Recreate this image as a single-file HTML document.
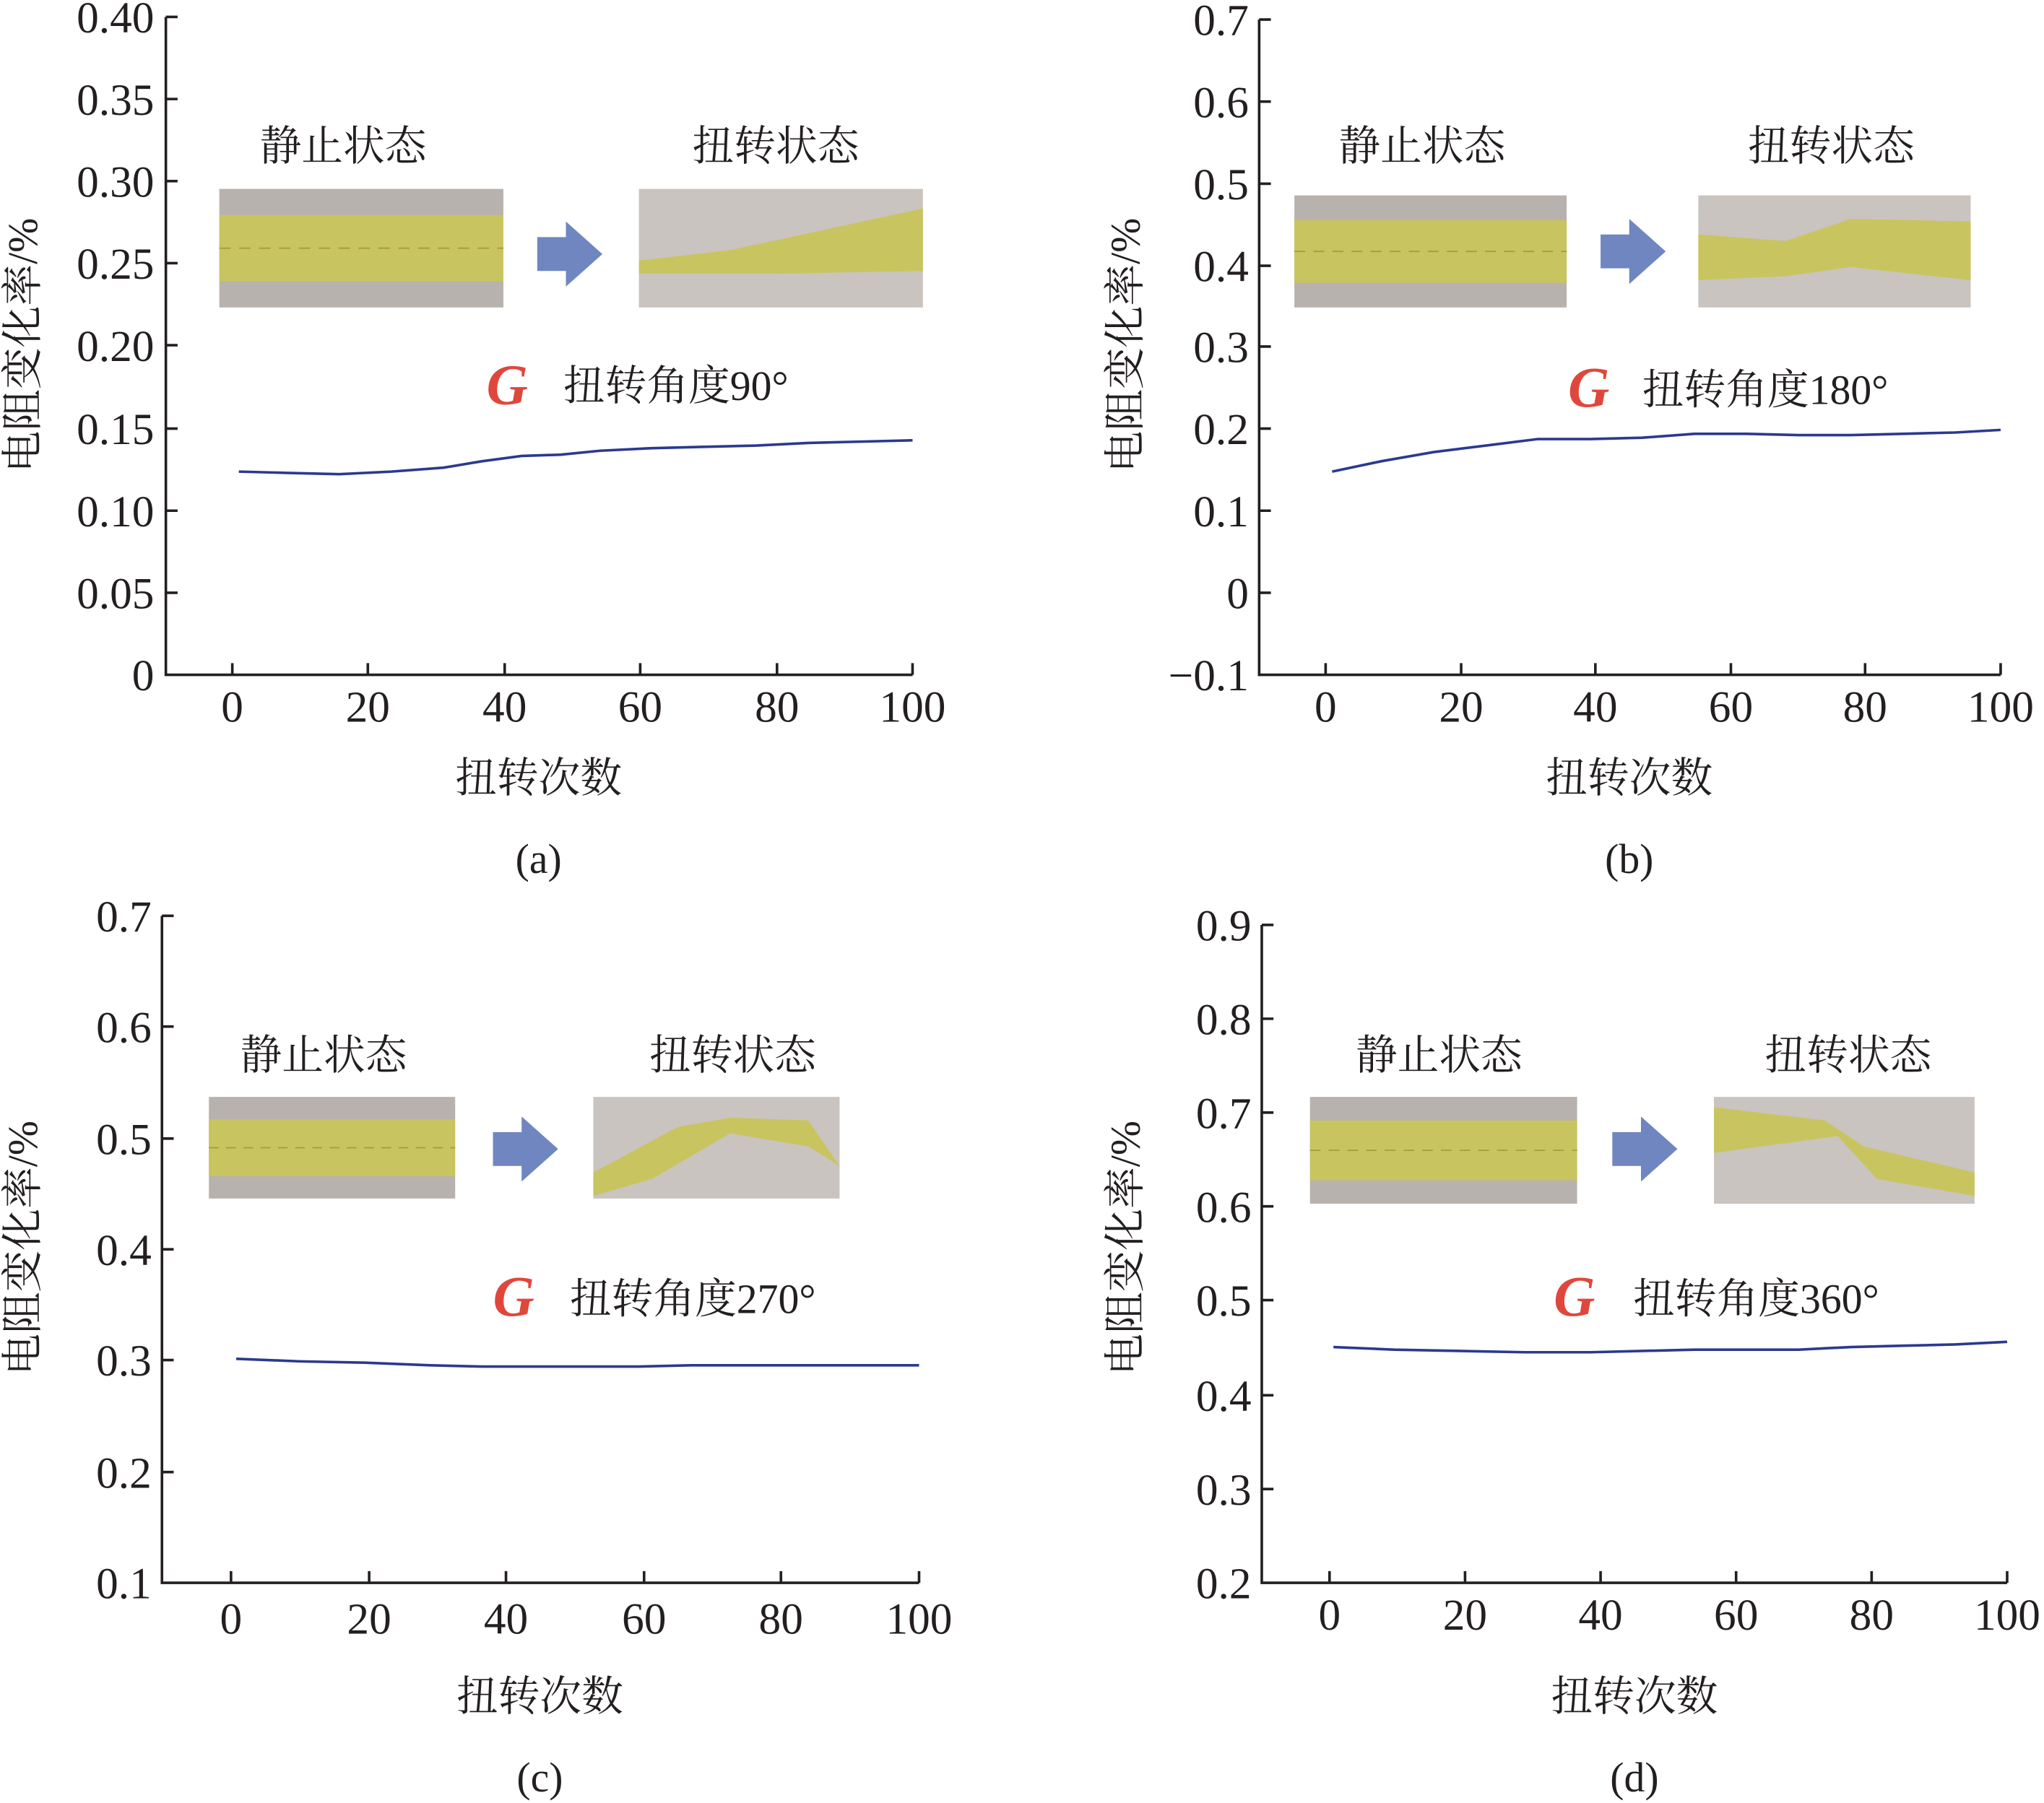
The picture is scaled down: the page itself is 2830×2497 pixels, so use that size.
<!DOCTYPE html>
<html><head><meta charset="utf-8"><style>
html,body{margin:0;padding:0;background:#fff}
svg{display:block}
text{font-family:"Liberation Serif","Noto Serif CJK SC",serif;fill:#231f20}
.t{font-size:34px;font-family:"Liberation Serif",serif}
.c{font-family:"Liberation Serif","Noto Serif CJK SC",serif;font-size:32px}
</style></head><body>
<svg width="2830" height="2497" viewBox="0 0 1568 1384" xmlns="http://www.w3.org/2000/svg">
<defs>
<g id="strip">
<rect x="0" y="0" width="100" height="100" fill="#b8b2ae"/>
<rect x="0" y="22" width="100" height="56" fill="#c8c560"/>
<line x1="0" y1="50" x2="100" y2="50" stroke="#a49e38" stroke-width="1.2" stroke-dasharray="4 3"/>
</g>
<g id="arrow"><polygon points="0,12 22,12 22,0 50,25 22,50 22,38 0,38" fill="#6f86c0"/></g>
<g id="G"><text x="0" y="0" font-family="Liberation Sans,sans-serif" font-size="44" font-weight="bold" font-style="italic" fill="#e0473c" style="fill:#e0473c">G</text></g>
</defs>

<!-- Panel a -->
<g stroke="#231f20" stroke-width="2" fill="none">
<path d="M127,13 V518 H700"/>
<path d="M127,13h9M127,76h9M127,139h9M127,202h9M127,265h9M127,329h9M127,392h9M127,455h9"/>
<path d="M178,518v-9M282,518v-9M387,518v-9M491,518v-9M596,518v-9M700,518v-9"/>
</g>
<g class="t" text-anchor="end">
<text x="118" y="25">0.40</text><text x="118" y="88">0.35</text><text x="118" y="151">0.30</text><text x="118" y="214">0.25</text><text x="118" y="277">0.20</text><text x="118" y="341">0.15</text><text x="118" y="404">0.10</text><text x="118" y="467">0.05</text><text x="118" y="530">0</text>
</g>
<g class="t" text-anchor="middle">
<text x="178" y="554">0</text><text x="282" y="554">20</text><text x="387" y="554">40</text><text x="491" y="554">60</text><text x="596" y="554">80</text><text x="700" y="554">100</text>
</g>
<text class="c" transform="translate(28,265) rotate(-90)" text-anchor="middle">电阻变化率/%</text>
<text class="c" x="413" y="608" text-anchor="middle">扭转次数</text>
<text class="c" x="413" y="670" text-anchor="middle">(a)</text>
<text class="c" x="263" y="123" text-anchor="middle">静止状态</text>
<text class="c" x="595" y="123" text-anchor="middle">扭转状态</text>
<use href="#strip" transform="translate(168,145) scale(2.18,0.91)"/>
<use href="#arrow" transform="translate(412,170)"/>
<rect x="490" y="145" width="218" height="91" fill="#c9c4bf"/>
<path d="M490,200 L560,192 L708,160 L708,208 L600,210 L490,210Z" fill="#c8c560"/>
<use href="#G" transform="translate(373,310)"/>
<text class="c" x="432" y="307">扭转角度90°</text>
<polyline fill="none" stroke="#2b3990" stroke-width="2" points="183,362 220,363 260,364 300,362 340,359 370,354 400,350 430,349 460,346 500,344 540,343 580,342 620,340 660,339 700,338"/>

<!-- Panel b -->
<g stroke="#231f20" stroke-width="2" fill="none">
<path d="M966,15 V518 H1535"/>
<path d="M966,15h9M966,78h9M966,141h9M966,204h9M966,266h9M966,329h9M966,392h9M966,455h9"/>
<path d="M1017,518v-9M1121,518v-9M1224,518v-9M1328,518v-9M1431,518v-9M1535,518v-9"/>
</g>
<g class="t" text-anchor="end">
<text x="958" y="27">0.7</text><text x="958" y="90">0.6</text><text x="958" y="153">0.5</text><text x="958" y="216">0.4</text><text x="958" y="278">0.3</text><text x="958" y="341">0.2</text><text x="958" y="404">0.1</text><text x="958" y="467">0</text><text x="958" y="530">−0.1</text>
</g>
<g class="t" text-anchor="middle">
<text x="1017" y="554">0</text><text x="1121" y="554">20</text><text x="1224" y="554">40</text><text x="1328" y="554">60</text><text x="1431" y="554">80</text><text x="1535" y="554">100</text>
</g>
<text class="c" transform="translate(874,265) rotate(-90)" text-anchor="middle">电阻变化率/%</text>
<text class="c" x="1250" y="608" text-anchor="middle">扭转次数</text>
<text class="c" x="1250" y="670" text-anchor="middle">(b)</text>
<text class="c" x="1091" y="123" text-anchor="middle">静止状态</text>
<text class="c" x="1405" y="123" text-anchor="middle">扭转状态</text>
<use href="#strip" transform="translate(993,150) scale(2.09,0.86)"/>
<use href="#arrow" transform="translate(1228,168)"/>
<rect x="1303" y="150" width="209" height="86" fill="#c9c4bf"/>
<path d="M1303,180 L1370,185 L1420,168 L1512,170 L1512,215 L1420,205 L1370,212 L1303,215Z" fill="#c8c560"/>
<use href="#G" transform="translate(1203,312)"/>
<text class="c" x="1260" y="310">扭转角度180°</text>
<polyline fill="none" stroke="#2b3990" stroke-width="2" points="1022,362 1060,354 1100,347 1140,342 1180,337 1220,337 1260,336 1300,333 1340,333 1380,334 1420,334 1460,333 1500,332 1535,330"/>

<!-- Panel c -->
<g stroke="#231f20" stroke-width="2" fill="none">
<path d="M124,703 V1215 H705"/>
<path d="M124,703h9M124,788h9M124,874h9M124,959h9M124,1044h9M124,1130h9"/>
<path d="M177,1215v-9M283,1215v-9M388,1215v-9M494,1215v-9M599,1215v-9M705,1215v-9"/>
</g>
<g class="t" text-anchor="end">
<text x="116" y="715">0.7</text><text x="116" y="800">0.6</text><text x="116" y="886">0.5</text><text x="116" y="971">0.4</text><text x="116" y="1056">0.3</text><text x="116" y="1142">0.2</text><text x="116" y="1227">0.1</text>
</g>
<g class="t" text-anchor="middle">
<text x="177" y="1254">0</text><text x="283" y="1254">20</text><text x="388" y="1254">40</text><text x="494" y="1254">60</text><text x="599" y="1254">80</text><text x="705" y="1254">100</text>
</g>
<text class="c" transform="translate(28,958) rotate(-90)" text-anchor="middle">电阻变化率/%</text>
<text class="c" x="414" y="1313" text-anchor="middle">扭转次数</text>
<text class="c" x="414" y="1375" text-anchor="middle">(c)</text>
<text class="c" x="248" y="821" text-anchor="middle">静止状态</text>
<text class="c" x="562" y="821" text-anchor="middle">扭转状态</text>
<use href="#strip" transform="translate(160,842) scale(1.89,0.78)"/>
<use href="#arrow" transform="translate(378,857)"/>
<rect x="455" y="842" width="189" height="78" fill="#c9c4bf"/>
<path d="M455,900 L520,865 L560,858 L620,860 L644,895 L620,880 L560,870 L500,905 L455,918Z" fill="#c8c560"/>
<use href="#G" transform="translate(378,1010)"/>
<text class="c" x="437" y="1008">扭转角度270°</text>
<polyline fill="none" stroke="#2b3990" stroke-width="2" points="181,1043 230,1045 280,1046 330,1048 370,1049 410,1049 450,1049 490,1049 530,1048 570,1048 620,1048 660,1048 705,1048"/>

<!-- Panel d -->
<g stroke="#231f20" stroke-width="2" fill="none">
<path d="M968,710 V1215 H1540"/>
<path d="M968,710h9M968,782h9M968,854h9M968,926h9M968,998h9M968,1071h9M968,1143h9"/>
<path d="M1020,1215v-9M1124,1215v-9M1228,1215v-9M1332,1215v-9M1436,1215v-9M1540,1215v-9"/>
</g>
<g class="t" text-anchor="end">
<text x="960" y="722">0.9</text><text x="960" y="794">0.8</text><text x="960" y="866">0.7</text><text x="960" y="938">0.6</text><text x="960" y="1010">0.5</text><text x="960" y="1083">0.4</text><text x="960" y="1155">0.3</text><text x="960" y="1227">0.2</text>
</g>
<g class="t" text-anchor="middle">
<text x="1020" y="1251">0</text><text x="1124" y="1251">20</text><text x="1228" y="1251">40</text><text x="1332" y="1251">60</text><text x="1436" y="1251">80</text><text x="1540" y="1251">100</text>
</g>
<text class="c" transform="translate(874,958) rotate(-90)" text-anchor="middle">电阻变化率/%</text>
<text class="c" x="1254" y="1313" text-anchor="middle">扭转次数</text>
<text class="c" x="1254" y="1375" text-anchor="middle">(d)</text>
<text class="c" x="1104" y="821" text-anchor="middle">静止状态</text>
<text class="c" x="1418" y="821" text-anchor="middle">扭转状态</text>
<use href="#strip" transform="translate(1005,842) scale(2.05,0.82)"/>
<use href="#arrow" transform="translate(1237,857)"/>
<rect x="1315" y="842" width="200" height="82" fill="#c9c4bf"/>
<path d="M1315,850 L1400,860 L1430,880 L1515,900 L1515,918 L1440,905 L1410,872 L1315,885Z" fill="#c8c560"/>
<use href="#G" transform="translate(1192,1010)"/>
<text class="c" x="1253" y="1008">扭转角度360°</text>
<polyline fill="none" stroke="#2b3990" stroke-width="2" points="1023,1034 1070,1036 1120,1037 1170,1038 1220,1038 1260,1037 1300,1036 1340,1036 1380,1036 1420,1034 1460,1033 1500,1032 1540,1030"/>
</svg>
</body></html>
